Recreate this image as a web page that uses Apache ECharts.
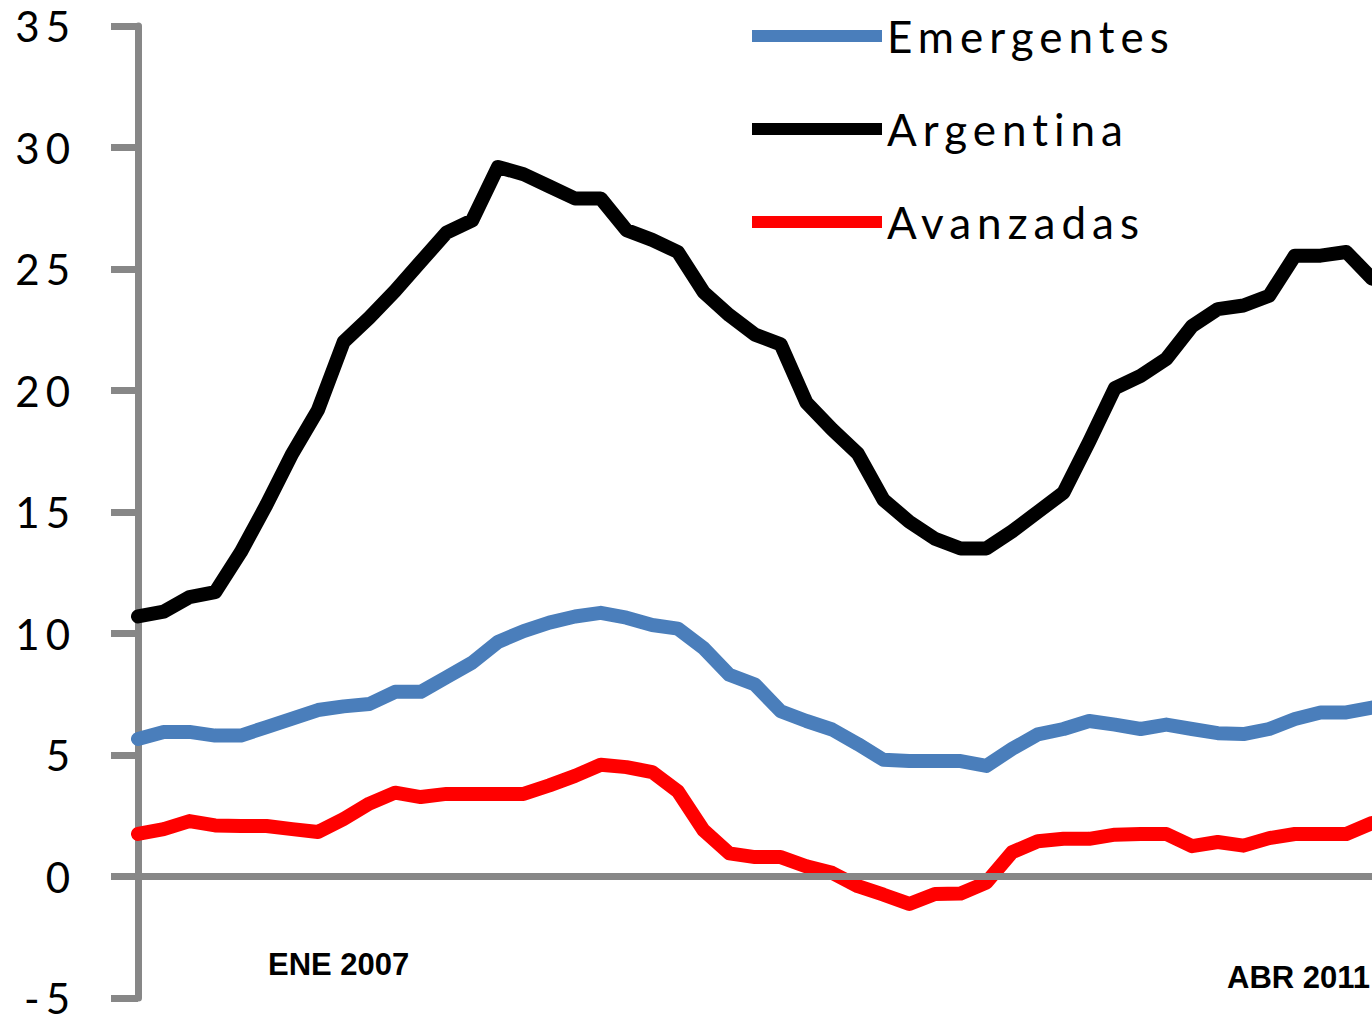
<!DOCTYPE html>
<html>
<head>
<meta charset="utf-8">
<script src="https://cdn.jsdelivr.net/npm/echarts@6/dist/echarts.min.js"></script>
<style>
html, body { margin: 0; padding: 0; background: #fff; }
#main { width: 1372px; height: 1019px; }
#main text { letter-spacing: 6px; }
</style>
</head>
<body>
<div id="main"></div>
<script>
// monthly points, left to right (the picture is cut at the right edge)
const months = ['1', '2', '3', '4', '5', '6', '7', '8', '9', '10',
  '11', '12', '13', '14', '15', '16', '17', '18', '19', '20',
  '21', '22', '23', '24', '25', '26', '27', '28', '29', '30',
  '31', '32', '33', '34', '35', '36', '37', '38', '39', '40',
  '41', '42', '43', '44', '45', '46', '47', '48', '49'];

const emergentes = [5.66, 5.95, 5.95, 5.8, 5.8, 6.15, 6.5, 6.85, 7.0, 7.1,
  7.6, 7.6, 8.2, 8.8, 9.65, 10.1, 10.45, 10.7, 10.85, 10.65,
  10.35, 10.2, 9.4, 8.3, 7.9, 6.8, 6.4, 6.05, 5.45, 4.8,
  4.75, 4.75, 4.75, 4.55, 5.25, 5.85, 6.07, 6.4, 6.25, 6.07,
  6.25, 6.07, 5.9, 5.86, 6.07, 6.48, 6.75, 6.75, 6.95];

const argentina = [10.7, 10.9, 11.5, 11.7, 13.35, 15.3, 17.4, 19.2, 22.0, 23.0,
  24.1, 25.3, 26.5, 27.0, 29.2, 28.9, 28.4, 27.9, 27.9, 26.6,
  26.2, 25.7, 24.05, 23.1, 22.3, 21.9, 19.5, 18.4, 17.4, 15.5,
  14.6, 13.9, 13.5, 13.5, 14.2, 15.0, 15.8, 17.9, 20.1, 20.6,
  21.3, 22.65, 23.35, 23.5, 23.9, 25.55, 25.55, 25.7, 24.6];

const avanzadas = [1.75, 1.95, 2.28, 2.1, 2.08, 2.08, 1.95, 1.83, 2.37, 3.0,
  3.45, 3.27, 3.4, 3.4, 3.4, 3.4, 3.75, 4.14, 4.6, 4.5,
  4.3, 3.5, 1.9, 0.95, 0.8, 0.8, 0.42, 0.15, -0.4, -0.75,
  -1.13, -0.72, -0.7, -0.25, 1.0, 1.45, 1.55, 1.55, 1.72, 1.75,
  1.75, 1.25, 1.42, 1.27, 1.58, 1.75, 1.75, 1.75, 2.2];

const dateLabels = ['ENE 2007', 'ABR 2011'];

const axisGray = '#878787';

function lineSeries(name, data, color, width) {
  return {
    name: name,
    type: 'line',
    data: data,
    symbol: 'none',
    lineStyle: { color: color, width: width, cap: 'round', join: 'round' },
    itemStyle: { color: color },
    z: 2
  };
}

let option = {
  animation: false,
  backgroundColor: '#fff',
  grid: { left: 138, right: 0, top: 26, bottom: 21 },
  legend: {
    orient: 'vertical',
    left: 747,
    top: 6,
    icon: 'rect',
    itemWidth: 130,
    itemHeight: 12,
    itemGap: 43,
    textStyle: { fontFamily: 'Lato', fontSize: 44, color: '#000', lineHeight: 50 },
    data: ['Emergentes', 'Argentina', 'Avanzadas']
  },
  xAxis: {
    type: 'category',
    data: months,
    boundaryGap: false,
    z: 3,
    axisLine: { onZero: true, lineStyle: { color: axisGray, width: 7 } },
    axisTick: { show: false },
    axisLabel: { show: false },
    splitLine: { show: false }
  },
  yAxis: {
    type: 'value',
    min: -5,
    max: 35,
    interval: 5,
    axisLine: { show: true, lineStyle: { color: axisGray, width: 7 } },
    axisTick: { show: true, length: 27, lineStyle: { color: axisGray, width: 7 } },
    axisLabel: { fontFamily: 'Lato', fontSize: 42, lineHeight: 34, color: '#000', margin: 62 },
    splitLine: { show: false }
  },
  graphic: [
    {
      type: 'text', left: 268, top: 949,
      style: { text: dateLabels[0], font: 'bold 31px "Liberation Sans"', fill: '#000' }
    },
    {
      type: 'text', left: 1227, top: 962,
      style: { text: dateLabels[1], font: 'bold 31px "Liberation Sans"', fill: '#000' }
    }
  ],
  series: [
    lineSeries('Emergentes', emergentes, '#4a7ebb', 14),
    lineSeries('Argentina', argentina, '#000000', 14),
    lineSeries('Avanzadas', avanzadas, '#ff0000', 14)
  ]
};

let myChart = echarts.init(document.getElementById('main'), null, { renderer: 'svg' });
myChart.on('finished', function () {
  // the two date notes are not letter-spaced in the original
  myChart.getDom().querySelectorAll('text').forEach(function (t) {
    if (/ENE|ABR/.test(t.textContent)) t.style.letterSpacing = 'normal';
  });
});
myChart.setOption(option);
</script>
</body>
</html>
